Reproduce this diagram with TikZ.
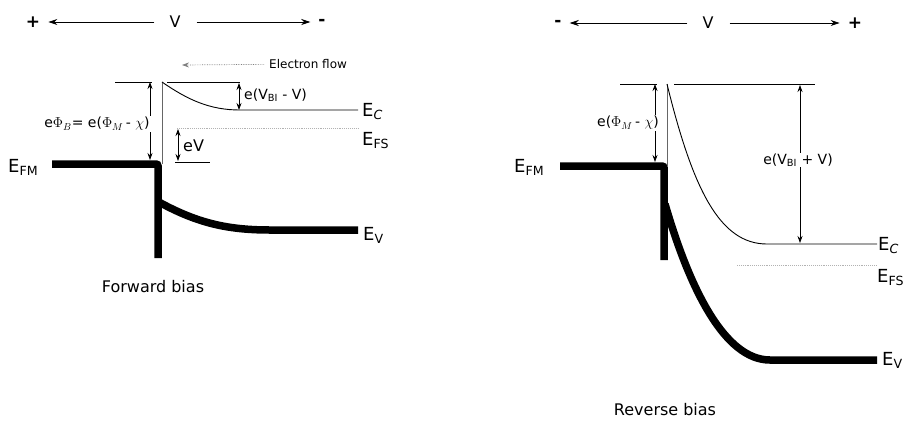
\documentclass[tikz,border=0pt]{standalone}
\usepackage{fontspec}
\setmainfont{DejaVu Sans}
\usetikzlibrary{arrows.meta,positioning}
\tikzset{
  band/.style={line width=7.5pt},
  cband/.style={line width=0.9pt},
  fermi/.style={line width=0.9pt,gray!60,densely dotted},
  dimarrow/.style={{Stealth[length=7pt,width=5pt]}-{Stealth[length=7pt,width=5pt]},line width=0.7pt},
  bandlbl/.style={font=\fontsize{18}{20}\selectfont,anchor=base west,inner sep=0pt},
  note/.style={font=\fontsize{14}{16}\selectfont,inner sep=1pt},
  biascap/.style={font=\fontsize{16}{18}\selectfont},
  sign/.style={font=\fontsize{17}{18}\selectfont\bfseries,inner sep=0pt},
}

\begin{document}
\begin{tikzpicture}[x=1pt,y=-1pt]
  \useasboundingbox (0,0) rectangle (907,421);
  % applied voltage, both panels
  \foreach \n/\a/\v/\b/\sa/\sb/\y in {F/33/175/322/+/-/22, R/558/708/855/-/+/23}{
    \node[sign] (sa\n) at (\a,\y) {\sa};
    \node[biascap,inner sep=0pt] (V\n) at (\v,\y) {V};
    \node[sign] (sb\n) at (\b,\y) {\sb};
    \draw[-{Stealth[length=9pt,width=6pt]},line width=0.8pt,shorten <=15pt,shorten >=8pt] (V\n) -- (sa\n);
    \draw[-{Stealth[length=9pt,width=6pt]},line width=0.8pt,shorten <=16pt,shorten >=8pt] (V\n) -- (sb\n);
  }

  % Forward bias
  \node[note,right,font=\fontsize{12}{14}\selectfont] (eflow) at (268,64) {Electron flow};
  \coordinate (eflowtip) at (182,65);
  \draw[-{Stealth[length=7pt,width=5pt]},gray,densely dotted,line width=0.7pt,shorten <=4pt] (eflow) -- (eflowtip);

  \draw[cband] (115,82) -- (152,82);
  \draw[cband] (167,82) -- (240,82);
  \draw[band,rounded corners=2pt] (52,164) -- (158,164) -- (158,258);
  \draw[band] (157,201) .. controls (195,222) and (225,230) .. (270,230) -- (358,230);
  \draw[cband,gray!80!black] (162,164) -- (162,82);
  \draw[cband] (162,82) .. controls (188,100) and (210,110) .. (240,110) -- (358,110);
  \draw[fermi] (177,128) -- (358,128);
  \draw[cband] (175,162) -- (210,162);

  \coordinate (phiFtop) at (150,82);
  \coordinate (phiFbot) at (150,160);
  \draw[dimarrow] (phiFtop) -- (phiFbot);
  \node[note,fill=white] (phiF) at (97,124) {e$\Phi_B$= e($\Phi_M$\,- $\chi$)};

  \coordinate (vbiFtop) at (239,83);
  \coordinate (vbiFbot) at (239,110);
  \draw[dimarrow] (vbiFtop) -- (vbiFbot);
  \node[note,right] (vbiF) at (243,95) {e(V\textsubscript{BI} - V)};

  \coordinate (eVtop) at (178,129);
  \coordinate (eVbot) at (178,161);
  \draw[dimarrow] (eVtop) -- (eVbot);
  \node[note,right,font=\fontsize{16}{18}\selectfont] (eV) at (182,146) {eV};

  \node[bandlbl] (ECf) at (362,116) {E\textsubscript{\textit{C}}};
  \node[bandlbl] (EFSf) at (362,145) {E\textsubscript{FS}};
  \node[bandlbl] (EVf) at (363,240) {E\textsubscript{V}};
  \node[bandlbl] (EFMf) at (8,172) {E\textsubscript{FM}};
  \node[biascap] (fwd) at (153,287) {Forward bias};

  % Reverse bias
  \draw[cband] (620,84) -- (657,84);
  \draw[cband] (674,84) -- (815,84);
  \draw[band,rounded corners=2pt] (560,166) -- (664,166) -- (664,260);
  \draw[band] (665,204) .. controls (690,290) and (725,360) .. (770,360) -- (877,360);
  \draw[cband,gray!80!black] (667,167) -- (667,84);
  \draw[cband] (667,84) .. controls (693,190) and (720,244) .. (767,244) -- (877,244);
  \draw[fermi] (737,265) -- (877,265);

  \coordinate (phiRtop) at (655,84);
  \coordinate (phiRbot) at (655,162);
  \draw[dimarrow] (phiRtop) -- (phiRbot);
  \node[note,fill=white] (phiR) at (628,123) {e($\Phi_M$\,- $\chi$)};

  \coordinate (vbiRtop) at (800,85);
  \coordinate (vbiRbot) at (800,243);
  \draw[dimarrow] (vbiRtop) -- (vbiRbot);
  \node[note,fill=white] (vbiR) at (798,160) {e(V\textsubscript{BI} + V)};

  \node[bandlbl] (ECr) at (878,250) {E\textsubscript{\textit{C}}};
  \node[bandlbl] (EFSr) at (877,282) {E\textsubscript{FS}};
  \node[bandlbl] (EVr) at (882,365) {E\textsubscript{V}};
  \node[bandlbl] (EFMr) at (514,172) {E\textsubscript{FM}};
  \node[biascap] (rev) at (665,410) {Reverse bias};
\end{tikzpicture}
\end{document}
